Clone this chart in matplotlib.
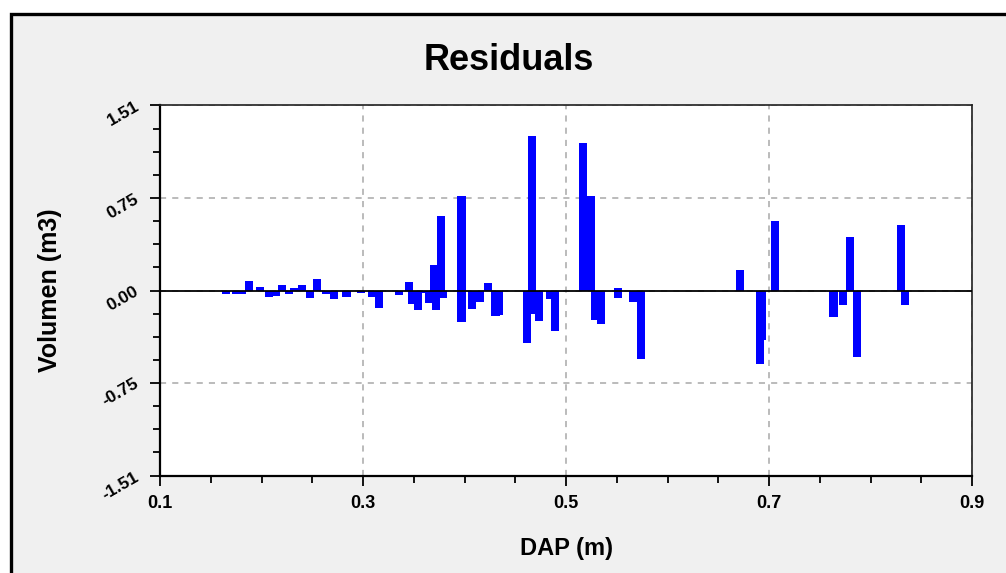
import numpy as np
import matplotlib
matplotlib.use("Agg")
import matplotlib.pyplot as plt
from matplotlib.patches import Rectangle
from matplotlib.ticker import MultipleLocator, FixedLocator

# residuals (DAP in m, residual volume in m3)
dap = [0.1647, 0.1746, 0.1811, 0.1877, 0.1988, 0.2077, 0.2143, 0.2199, 0.2274, 0.2320,
       0.2402, 0.2478, 0.2544, 0.2633, 0.2717, 0.2839, 0.2983, 0.3092, 0.3155, 0.3355,
       0.3450, 0.3483, 0.3545, 0.3624, 0.3650, 0.3700, 0.3716, 0.3771, 0.3785, 0.3972,
       0.3972, 0.4077, 0.4153, 0.4234, 0.4307, 0.4340, 0.4613, 0.4662, 0.4668, 0.4737,
       0.4842, 0.4889, 0.5170, 0.5249, 0.5286, 0.5342, 0.5512, 0.5512, 0.5663, 0.5736,
       0.6714, 0.6908, 0.6926, 0.7059, 0.7634, 0.7731, 0.7801, 0.7870, 0.8303, 0.8337]
resid = [-0.027, -0.025, -0.030, 0.080, 0.030, -0.050, -0.045, 0.045, -0.030, 0.020,
         0.045, -0.060, 0.090, -0.030, -0.070, -0.055, -0.020, -0.050, -0.140, -0.035,
         0.070, -0.110, -0.160, -0.020, -0.100, 0.210, -0.160, 0.607, -0.060, 0.770,
         -0.260, -0.150, -0.090, 0.060, -0.210, -0.200, -0.425, 1.258, -0.190, -0.250,
         -0.070, -0.330, 1.204, 0.770, -0.240, -0.270, -0.065, 0.020, -0.090, -0.560,
         0.170, -0.600, -0.400, 0.568, -0.215, -0.115, 0.433, -0.540, 0.533, -0.115]

x_ticks = [0.1, 0.3, 0.5, 0.7, 0.9]
y_ticks = [-1.51, -0.75, 0.0, 0.75, 1.51]
y_labels = ["-1.51", "-0.75", "0.00", "0.75", "1.51"]

plt.rcParams['font.family'] = ['Liberation Sans', 'DejaVu Sans']
plt.rcParams['font.weight'] = 'bold'

W, H = 1006, 573
fig = plt.figure(figsize=(W / 100, H / 100), dpi=100)
fig.patch.set_facecolor('white')

# grey panel with the black frame on top/left
panel = Rectangle((11 / W, -0.1), 1.2, 1 - 14 / H + 0.1,
                  transform=fig.transFigure, facecolor='#f0f0f0',
                  edgecolor='black', linewidth=2.4, zorder=-10)
fig.add_artist(panel)

ax = fig.add_axes([160 / W, 1 - 476 / H, 812 / W, 371 / H])
ax.set_zorder(1)
ax.set_facecolor('white')

ax.bar(dap, resid, width=0.0082, color='#0000ff', edgecolor='none', zorder=3)
ax.axhline(0, color='black', linewidth=1.3, zorder=4)

ax.set_xlim(0.1, 0.9)
ax.set_ylim(-1.51, 1.51)
ax.xaxis.set_major_locator(FixedLocator(x_ticks))
ax.xaxis.set_minor_locator(MultipleLocator(0.05))
ax.set_xticklabels([f"{v:.1f}" for v in x_ticks], fontsize=13, fontweight='bold')
ax.yaxis.set_major_locator(FixedLocator(y_ticks))
ax.yaxis.set_minor_locator(FixedLocator(np.arange(-7, 8) * 0.1875))
ax.set_yticklabels(y_labels, fontsize=12.5, fontweight='bold', rotation=30,
                   ha='right', va='center', rotation_mode='anchor')

ax.grid(True, which='major', color='#a8a8a8', linestyle=(0, (4, 4)), linewidth=1.1, zorder=1)
ax.set_axisbelow(True)

ax.tick_params(axis='both', which='major', length=7, width=1.3, direction='out')
ax.tick_params(axis='both', which='minor', length=5, width=1.3, direction='out')
ax.tick_params(axis='x', which='major', pad=7)
ax.tick_params(axis='y', which='major', pad=9)

for s in ['left', 'bottom']:
    ax.spines[s].set_linewidth(1.6)
for s in ['top', 'right']:
    ax.spines[s].set_linewidth(1.2)
    ax.spines[s].set_color('#202020')

fig.text(509 / W, 1 - 60 / H, 'Residuals', fontsize=26, fontweight='bold',
         ha='center', va='center')
fig.text(566 / W, 1 - 548 / H, 'DAP (m)', fontsize=17, fontweight='bold',
         ha='center', va='center')
fig.text(50 / W, 1 - 290 / H, 'Volumen (m3)', fontsize=18, fontweight='bold',
         ha='center', va='center', rotation=90)

fig.savefig('out.png', dpi=100, facecolor=fig.get_facecolor())
